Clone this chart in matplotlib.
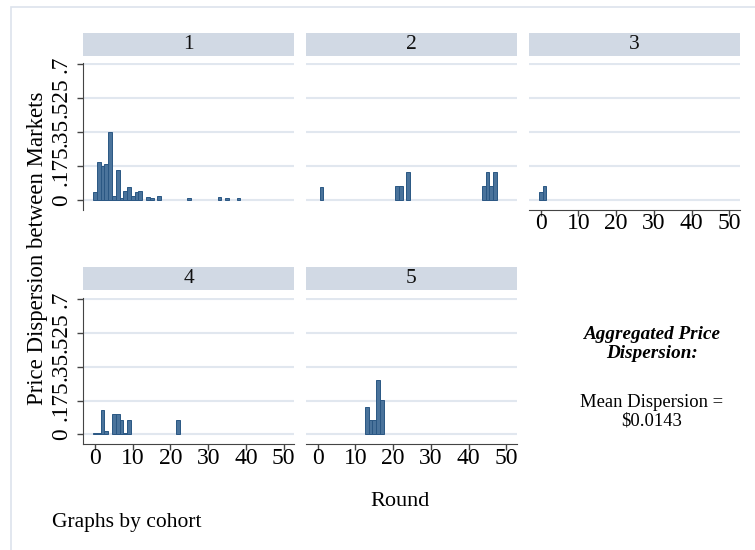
import matplotlib
matplotlib.use("Agg")
import matplotlib.pyplot as plt
from matplotlib.patches import Rectangle

# dispersion by round, one pair of lists per cohort
rounds1 = [0, 1, 2, 3, 4, 5, 6, 7, 8, 9, 10, 11, 12, 14, 15, 17, 25, 33, 35, 38]
disp1 = [0.038, 0.197, 0.176, 0.184, 0.35, 0.022, 0.155, 0.010, 0.045, 0.066,
         0.022, 0.038, 0.045, 0.016, 0.009, 0.022, 0.009, 0.016, 0.009, 0.009]
rounds2 = [1, 21, 22, 24, 44, 45, 46, 47]
disp2 = [0.066, 0.071, 0.071, 0.143, 0.071, 0.143, 0.071, 0.143]
rounds3 = [0, 1]
disp3 = [0.039, 0.071]
rounds4 = [0, 1, 2, 3, 5, 6, 7, 8, 9, 22]
disp4 = [0.009, 0.009, 0.128, 0.017, 0.107, 0.107, 0.073, 0.009, 0.073, 0.073]
rounds5 = [13, 14, 15, 16, 17]
disp5 = [0.141, 0.073, 0.073, 0.279, 0.177]

cohorts = ["1", "2", "3", "4", "5"]
yticks = [0, 0.175, 0.35, 0.525, 0.7]
ytick_labels = ["0", ".175", ".35", ".525", ".7"]
xticks = [0, 10, 20, 30, 40, 50]

plt.rcParams['font.family'] = ['Liberation Serif', 'DejaVu Serif']

W, H = 755, 550
fig = plt.figure(figsize=(W / 100, H / 100), dpi=100)

BAR = '#4a739b'
EDGE = '#2a5783'
GRID = '#e1e7ef'
HEAD = '#d1d9e4'
AXC = '#444444'


def px_axes(x0, y0, x1, y1, **kw):
    return fig.add_axes([x0 / W, 1 - y1 / H, (x1 - x0) / W, (y1 - y0) / H], **kw)


# outer frame
fig.patches.append(Rectangle((11 / W, -0.1), 1.2, 1 - 7 / H + 0.1,
                             transform=fig.transFigure, fill=False,
                             edgecolor='#dde3ec', linewidth=1.2))

col_x = [83.3, 306, 529]
pw = 211
rows = [(32.7, 55.7, 62.7, 209.5), (267, 290, 297.5, 444)]

data = [(rounds1, disp1), (rounds2, disp2), (rounds3, disp3),
        (rounds4, disp4), (rounds5, disp5)]

for i, (rr, dd) in enumerate(data):
    r, c = divmod(i, 3)
    hy0, hy1, ay0, ay1 = rows[r]
    x0 = col_x[c]

    hax = px_axes(x0, hy0, x0 + pw, hy1)
    hax.set_facecolor(HEAD)
    hax.set_xticks([])
    hax.set_yticks([])
    for s in hax.spines.values():
        s.set_visible(False)
    hax.text(0.5, 0.5, cohorts[i], ha='center', va='center', fontsize=15.5,
             transform=hax.transAxes, color='#111111')

    ax = px_axes(x0, ay0, x0 + pw, ay1)
    ax.bar(rr, dd, width=1.0, color=BAR, edgecolor=EDGE, linewidth=0.7, zorder=3)
    ax.set_xlim(-3.1, 52.8)
    ax.set_ylim(-0.05, 0.708)
    ax.set_yticks(yticks)
    ax.set_xticks(xticks)
    ax.yaxis.grid(True, color=GRID, linewidth=1.5)
    ax.set_axisbelow(True)
    ax.spines['top'].set_visible(False)
    ax.spines['right'].set_visible(False)

    show_x = (i >= 2)
    show_y = (c == 0)
    ax.spines['bottom'].set_visible(show_x)
    ax.spines['left'].set_visible(show_y)
    ax.spines['bottom'].set_color(AXC)
    ax.spines['left'].set_color(AXC)
    ax.tick_params(axis='x', bottom=show_x, labelbottom=show_x, length=4.3,
                   width=1, color=AXC, labelsize=17, pad=-1.5)
    ax.tick_params(axis='y', left=show_y, labelleft=show_y, length=4.3,
                   width=1, color=AXC, labelsize=16.8, labelrotation=90, pad=4)
    if show_y:
        ax.set_yticklabels(ytick_labels)
        for t in ax.get_yticklabels():
            t.set_va('center')

fig.text(38 / W, 1 - 248.5 / H, "Price Dispersion between Markets",
         rotation=90, ha='center', va='center', fontsize=16.4)
fig.text(400 / W, 1 - 501 / H, "Round", ha='center', va='center', fontsize=16)
fig.text(52 / W, 1 - 522 / H, "Graphs by cohort", ha='left', va='center',
         fontsize=15.5)

fig.text(652 / W, 1 - 344 / H, "Aggregated Price\nDispersion:", ha='center',
         va='center', fontsize=13.8, fontweight='bold', fontstyle='italic',
         linespacing=1.15)
fig.text(652 / W, 1 - 412 / H, "Mean Dispersion =\n$0.0143", ha='center',
         va='center', fontsize=13.4, linespacing=1.15, parse_math=False)

fig.savefig("out.png", dpi=100)
